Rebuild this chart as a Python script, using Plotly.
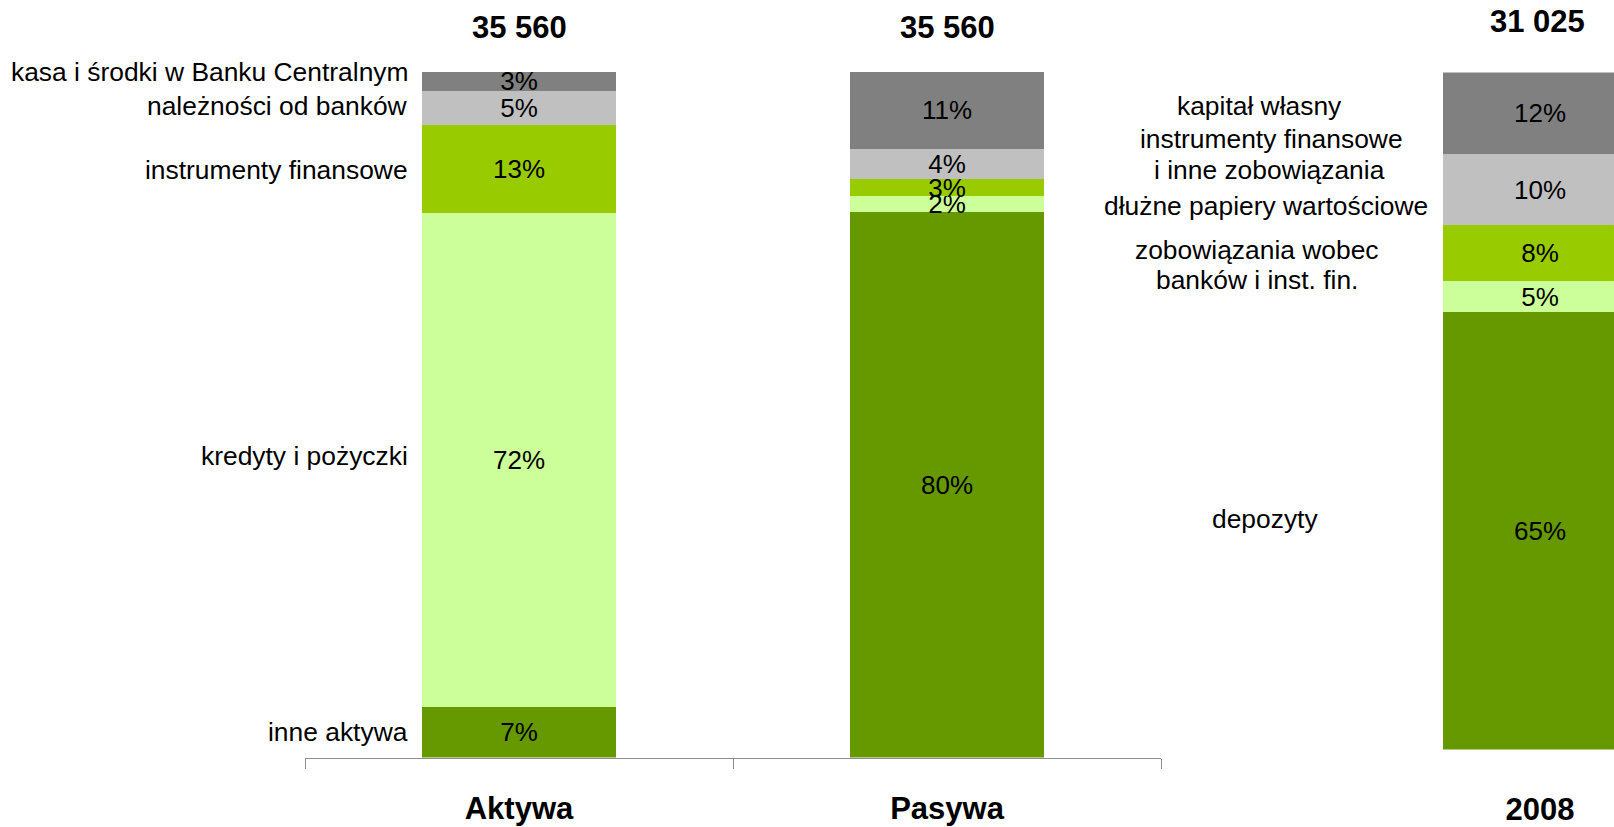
import plotly.graph_objects as go

# ---------------- data ----------------
categories = ["Aktywa", "Pasywa"]
totals = [35560, 35560]

aktywa_items = ["inne aktywa", "kredyty i pożyczki", "instrumenty finansowe",
                "należności od banków", "kasa i środki w Banku Centralnym"]
aktywa_pct = [7.4, 72.1, 12.8, 5.0, 2.7]

pasywa_items = ["depozyty", "zobowiązania wobec<br>banków i inst. fin.",
                "dłużne papiery wartościowe",
                "instrumenty finansowe<br>i inne zobowiązania", "kapitał własny"]
pasywa_pct = [79.6, 2.3, 2.5, 4.4, 11.2]

year_category = ["2008"]
year_total = [31025]
year_pct = [64.6, 4.6, 8.3, 10.4, 12.1]

colors = ["#669900", "#CCFF99", "#99CC00", "#C0C0C0", "#808080"]

# ---------------- layout helpers ----------------
W, H = 1614, 827
FONT = "Liberation Sans, Arial, sans-serif"
LBL = 26.4
PCT = 26
BOLD = 31


def px(x):
    return x / W


def py(y):
    return 1 - y / H


BAR_W = 0.453

fig = go.Figure()

for i, c in enumerate(colors):
    fig.add_trace(go.Bar(
        x=categories, y=[aktywa_pct[i], pasywa_pct[i]],
        marker=dict(color=c, line=dict(width=0)),
        width=BAR_W,
        texttemplate="%{y:.0f}%", textposition="inside",
        insidetextanchor="middle", constraintext="none",
        textfont=dict(family=FONT, size=PCT, color="black"),
        xaxis="x", yaxis="y", showlegend=False, hoverinfo="skip",
    ))
    fig.add_trace(go.Bar(
        x=year_category, y=[year_pct[i]],
        marker=dict(color=c, line=dict(width=0)),
        width=BAR_W,
        texttemplate="%{y:.0f}%", textposition="inside",
        insidetextanchor="middle", constraintext="none",
        textfont=dict(family=FONT, size=PCT, color="black"),
        xaxis="x2", yaxis="y2", showlegend=False, hoverinfo="skip",
    ))

annotations = []
# totals above bars
for cat, tot in zip(categories, totals):
    annotations.append(dict(
        x=cat, xref="x", y=py(28), yref="paper",
        text=f"{tot:,}".replace(",", " "), showarrow=False,
        font=dict(family=FONT, size=BOLD, color="black", weight="bold"),
        xanchor="center", yanchor="middle"))
annotations.append(dict(
    x=px(1537), xref="paper", y=py(22), yref="paper",
    text=f"{year_total[0]:,}".replace(",", " "), showarrow=False,
    font=dict(family=FONT, size=BOLD, color="black", weight="bold"),
    xanchor="center", yanchor="middle"))

# left labels (assets)
left_y = [738, 460, 171, 107, 73]
for name, yy in zip(aktywa_items, left_y):
    annotations.append(dict(
        x=px(410), xref="paper", y=py(yy), yref="paper", text=name,
        showarrow=False, font=dict(family=FONT, size=LBL, color="black"),
        xanchor="right", yanchor="middle"))

# middle labels (liabilities)
mid_pos = [[(1265, 523)], [(1257, 252), (1257, 282)], [(1266, 208)],
           [(1271, 140), (1269, 171)], [(1259, 107)]]
for name, poss in zip(pasywa_items, mid_pos):
    for line, (xx, yy) in zip(name.split("<br>"), poss):
        annotations.append(dict(
            x=px(xx), xref="paper", y=py(yy), yref="paper", text=line,
            showarrow=False, font=dict(family=FONT, size=LBL, color="black"),
            xanchor="center", yanchor="middle"))

x2_lo = px(1291.2)
unit = 428.0
x2_range = [-(1540 - 1291.2) / unit, (1614 - 1540) / unit]

fig.update_layout(
    width=W, height=H,
    margin=dict(l=0, r=0, t=0, b=0),
    paper_bgcolor="white", plot_bgcolor="white",
    barmode="stack",
    uniformtext=dict(mode="show", minsize=PCT),
    font=dict(family=FONT, color="black"),
    xaxis=dict(domain=[px(305), px(1161)], anchor="y", type="category",
               range=[-0.5, 1.5], showline=True, linecolor="#8c8c8c",
               linewidth=1, ticks="outside", tickson="boundaries",
               ticklen=10, tickcolor="#8c8c8c", showgrid=False,
               tickfont=dict(family=FONT, size=BOLD, color="black",
                             weight="bold"),
               ticklabelstandoff=23),
    yaxis=dict(domain=[py(764), py(72.7)], anchor="x", range=[0, 100],
               showticklabels=False, showgrid=False, zeroline=False,
               showline=False, ticks=""),
    xaxis2=dict(domain=[x2_lo, 1.0], anchor="y2", type="category",
                range=x2_range, showline=False, ticks="", showgrid=False,
                tickfont=dict(family=FONT, size=BOLD, color="black",
                              weight="bold"),
                ticklabelstandoff=38),
    yaxis2=dict(domain=[py(756), py(73)], anchor="x2", range=[0, 100],
                showticklabels=False, showgrid=False, zeroline=False,
                showline=False, ticks=""),
    annotations=annotations,
)

fig.write_html(
    "out.html",
    config={"displayModeBar": False},
    post_script="document.body.style.margin='0';"
                "document.body.style.padding='0';"
                "document.body.style.overflow='hidden';",
)
